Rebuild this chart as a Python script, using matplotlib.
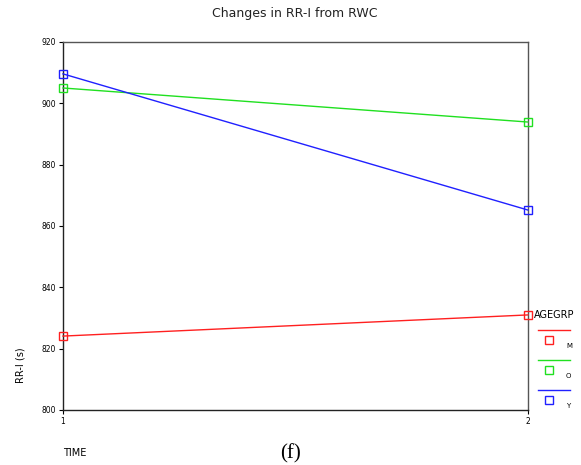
import matplotlib
matplotlib.use('Agg')
import matplotlib.pyplot as plt
from matplotlib.lines import Line2D

# data
time = [1, 2]
groups = ['M', 'O', 'Y']
rri_m = [824.1, 831.0]
rri_o = [905.0, 893.9]
rri_y = [909.6, 865.2]
colors = {'M': '#ff2020', 'O': '#20e020', 'Y': '#2020ff'}
yticks = [800, 820, 840, 860, 880, 900, 920]

fig = plt.figure(figsize=(5.81, 4.65), dpi=100)
ax = fig.add_axes([0.1084, 0.1183, 0.8003, 0.7914])

for g, vals in zip(groups, [rri_m, rri_o, rri_y]):
    ax.plot(time, vals, color=colors[g], lw=1.0, marker='s', ms=5.5,
            mfc='none', mec=colors[g], mew=1.0, clip_on=False, zorder=3)

ax.set_xlim(1, 2)
ax.set_ylim(800, 920)
ax.set_yticks(yticks)
ax.set_yticklabels([str(v) for v in yticks], fontsize=5.5)
ax.set_xticks(time)
ax.set_xticklabels([str(t) for t in time], fontsize=5.5)
ax.tick_params(direction='out', length=3, width=0.8, pad=2)
for sp in ax.spines.values():
    sp.set_linewidth(1.0)
    sp.set_color('#222222')
ax.spines['right'].set_color('#555555')
ax.spines['top'].set_color('#555555')

fig.text(0.508, 0.970, 'Changes in RR-I from RWC', ha='center', va='center',
         fontsize=9, color='#222222')
fig.text(0.036, 0.215, 'RR-I (s)', rotation=90, ha='center', va='center',
         fontsize=7)
fig.text(0.108, 0.025, 'TIME', ha='left', va='center', fontsize=7)
fig.text(0.500, 0.025, '(f)', ha='center', va='center', fontsize=15,
         family='Liberation Serif')

# legend drawn by hand in figure coords
W, H = 581.0, 465.0
fig.text(534 / W, 1 - 315 / H, 'AGEGRP', ha='left', va='center', fontsize=7)
for i, g in enumerate(groups):
    ly = 330 + 30 * i
    fig.add_artist(Line2D([538 / W, 570 / W], [1 - ly / H, 1 - ly / H],
                          color=colors[g], lw=1.0, transform=fig.transFigure))
    fig.add_artist(Line2D([549 / W], [1 - (ly + 10) / H], marker='s', ms=5.5,
                          mfc='none', mec=colors[g], mew=1.0, ls='none',
                          transform=fig.transFigure))
    fig.text(566 / W, 1 - (ly + 16) / H, g, ha='left', va='center', fontsize=5)

fig.savefig('out.png', dpi=100)
